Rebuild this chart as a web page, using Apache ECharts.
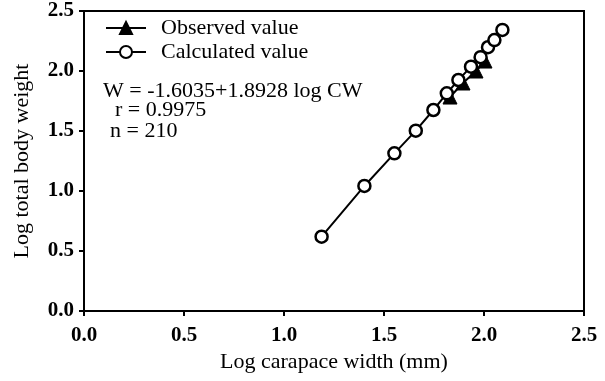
<!DOCTYPE html>
<html>
<head>
<meta charset="utf-8">
<script src="https://cdn.jsdelivr.net/npm/echarts@6/dist/echarts.min.js"></script>
<style>
  html, body { margin: 0; padding: 0; background: #fff; }
  #main { width: 605px; height: 381px; }
</style>
</head>
<body>
<div id="main"></div>
<script>
// data
var xCalc = [1.188, 1.402, 1.552, 1.659, 1.747, 1.814, 1.872, 1.935, 1.983, 2.020, 2.052, 2.092];
var yCalc = [0.619, 1.042, 1.314, 1.503, 1.675, 1.814, 1.925, 2.036, 2.115, 2.198, 2.258, 2.342];
var xObs = [1.830, 1.895, 1.960, 2.005];
var yObs = [1.783, 1.900, 2.000, 2.083];
var tickLabels = ['0.0', '0.5', '1.0', '1.5', '2.0', '2.5'];
var notes = ['W = -1.6035+1.8928 log CW', 'r = 0.9975', 'n = 210'];

function pairs(xs, ys) {
    var out = [];
    for (var i = 0; i < xs.length; i++) {
        out.push([xs[i], ys[i]]);
    }
    return out;
}

var font = 'Liberation Serif';
var myChart = echarts.init(document.getElementById('main'));

var axisCommon = {
    type: 'value',
    min: 0,
    max: 2.5,
    interval: 0.5,
    nameLocation: 'middle',
    nameTextStyle: { fontFamily: font, fontSize: 22, color: '#000' },
    axisLine: { show: true, lineStyle: { color: '#000', width: 2 } },
    axisTick: { show: true, inside: false, length: 5, lineStyle: { color: '#000', width: 2 } },
    splitLine: { show: false },
    axisLabel: {
        fontFamily: font,
        fontSize: 21,
        fontWeight: 'bold',
        color: '#000',
        formatter: function (v) { return tickLabels[Math.round(v / 0.5)]; }
    }
};

var option = {
    animation: false,
    backgroundColor: '#fff',
    grid: {
        left: 84, right: 21, top: 11, bottom: 70,
        outerBoundsMode: 'none',
        containLabel: false,
        show: true,
        borderColor: '#000',
        borderWidth: 2,
        backgroundColor: 'transparent'
    },
    legend: {
        orient: 'vertical',
        left: 100,
        top: 12,
        itemWidth: 40,
        itemHeight: 15,
        itemGap: 2,
        textStyle: { fontFamily: font, fontSize: 22, color: '#000', padding: [0, 0, 0, 10] },
        data: ['Observed value', 'Calculated value']
    },
    xAxis: echarts.util.merge({
        name: 'Log carapace width (mm)',
        nameGap: 33,
        axisLabel: { margin: 14 }
    }, axisCommon),
    yAxis: echarts.util.merge({
        name: 'Log total body weight',
        nameGap: 51,
        axisLabel: { margin: 10 }
    }, axisCommon),
    graphic: [
        { type: 'text', left: 103, top: 80, style: { text: notes[0], font: '22px "' + font + '"', fill: '#000' } },
        { type: 'text', left: 115, top: 99, style: { text: notes[1], font: '22px "' + font + '"', fill: '#000' } },
        { type: 'text', left: 110, top: 120, style: { text: notes[2], font: '22px "' + font + '"', fill: '#000' } }
    ],
    series: [
        {
            name: 'Observed value',
            type: 'line',
            data: pairs(xObs, yObs),
            symbol: 'triangle',
            symbolSize: 14,
            showAllSymbol: true,
            itemStyle: { color: '#000', borderColor: '#000', borderWidth: 1 },
            lineStyle: { color: '#000', width: 2 }
        },
        {
            name: 'Calculated value',
            type: 'line',
            data: pairs(xCalc, yCalc),
            symbol: 'circle',
            symbolSize: 12,
            showAllSymbol: true,
            itemStyle: { color: '#fff', borderColor: '#000', borderWidth: 2.5 },
            lineStyle: { color: '#000', width: 2 }
        }
    ]
};

myChart.setOption(option);
window.onresize = function () {
    myChart.resize();
};
</script>
</body>
</html>
